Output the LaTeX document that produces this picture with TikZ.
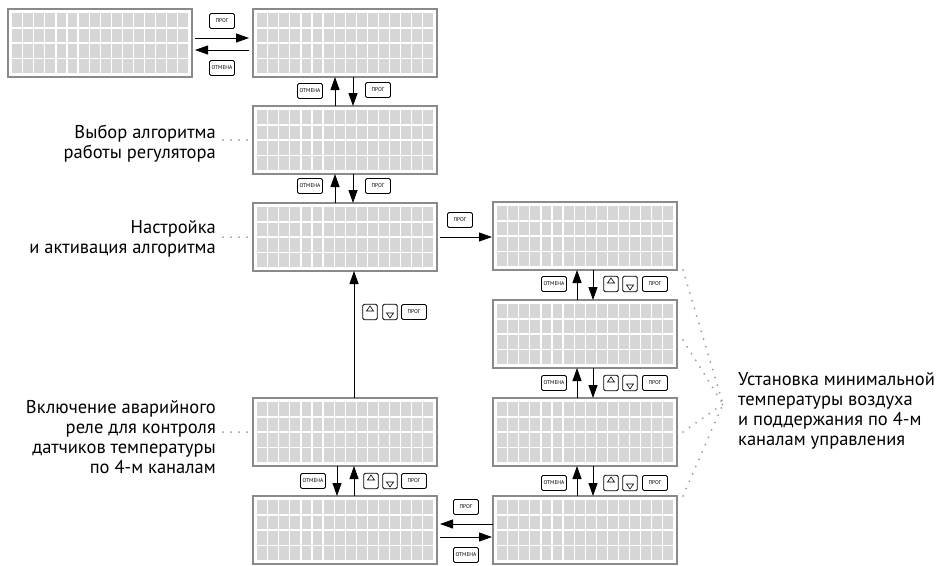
\documentclass[tikz,border=0pt]{standalone}
\usepackage{fontspec}
\setmainfont{PT Sans}
\usetikzlibrary{arrows.meta,calc}
\definecolor{lcdborder}{HTML}{8A8A8A}
\definecolor{lcdcell}{HTML}{D6D6D6}
\definecolor{dotgray}{HTML}{9A9A9A}
\tikzset{
  lcd/.style={draw=lcdborder, line width=1.8pt, fill=white, minimum width=184pt, minimum height=68pt, inner sep=0pt, outer sep=0pt},
  lcdc/.style={fill=lcdcell},
  arr/.style={line width=0.9pt, -{Triangle[length=13pt,width=9pt]}},
  btn/.style={draw, line width=0.8pt, rounded corners=1.5pt, minimum width=25pt, minimum height=15pt, inner sep=0pt, font=\fontsize{5.5}{6}\selectfont},
  tbtn/.style={btn, minimum width=14.5pt, minimum height=15.5pt},
  lbl/.style={font=\fontsize{18.5}{20}\selectfont, inner sep=0pt},
  dotl/.style={draw=dotgray, line width=2pt, line cap=round, dash pattern=on 0pt off 8pt},
}
\newcommand\lcdscr[3]{%
  \node[lcd, anchor=north west] (#1) at (#2,#3) {};
  \foreach \ci in {0,...,15}{\foreach \ri in {0,...,3}{%
    \fill[lcdc] ($(#1.north west)+(4.3+\ci*11.05,4.4+\ri*15.2)$) rectangle ++(9.9,13.8);}}%
}
\newcommand\upbtn[3]{%
  \node[tbtn] (#1) at (#2,#3) {};
  \draw[line width=0.6pt] ($(#1.center)+(-3.5,-1)$) -- ($(#1.center)+(3.5,-1)$) -- ($(#1.center)+(0,-6)$) -- cycle;}
\newcommand\dnbtn[3]{%
  \node[tbtn] (#1) at (#2,#3) {};
  \draw[line width=0.6pt] ($(#1.center)+(-3.5,1)$) -- ($(#1.center)+(3.5,1)$) -- ($(#1.center)+(0,6)$) -- cycle;}
\begin{document}
\begin{tikzpicture}[x=1pt,y=-1pt]
\fill[white] (0,0) rectangle (942,565);
\path[use as bounding box] (0,0) rectangle (942,565);
\clip (0,0) rectangle (942,565);

% screens
\lcdscr{A}{8}{9}
\lcdscr{B}{253}{9}
\lcdscr{C}{253}{106}
\lcdscr{D}{253}{203}
\lcdscr{E}{253}{398}
\lcdscr{F}{253}{496}
\lcdscr{G}{493}{202}
\lcdscr{H}{493}{300}
\lcdscr{I}{493}{398}
\lcdscr{J}{493}{496}

% arrows
\draw[arr, shorten <=3pt, shorten >=4pt] ([yshift=5pt]A.east) -- ([yshift=5pt]B.west);
\draw[arr, shorten <=4pt, shorten >=3pt] ([yshift=-7pt]B.west) -- ([yshift=-7pt]A.east);
\draw[arr] ([xshift=-10pt]C.north) -- ([xshift=-10pt]B.south);
\draw[arr] ([xshift=8pt]B.south) -- ([xshift=8pt]C.north);
\draw[arr] ([xshift=-10pt]D.north) -- ([xshift=-10pt]C.south);
\draw[arr] ([xshift=8pt]C.south) -- ([xshift=8pt]D.north);
\draw[arr, shorten <=3pt, shorten >=1pt] (D.east) -- (D.east -| G.west);
\draw[arr] ([xshift=9pt]E.north) -- ([xshift=9pt]D.south);
\draw[arr] ([xshift=-8pt]E.south) -- ([xshift=-8pt]F.north);
\draw[arr] ([xshift=9pt]F.north) -- ([xshift=9pt]E.south);
\draw[arr] ([xshift=-8pt]H.north) -- ([xshift=-8pt]G.south);
\draw[arr] ([xshift=8pt]G.south) -- ([xshift=8pt]H.north);
\draw[arr] ([xshift=-8pt]I.north) -- ([xshift=-8pt]H.south);
\draw[arr] ([xshift=8pt]H.south) -- ([xshift=8pt]I.north);
\draw[arr] ([xshift=-8pt]J.north) -- ([xshift=-8pt]I.south);
\draw[arr] ([xshift=8pt]I.south) -- ([xshift=8pt]J.north);
\draw[arr, shorten >=3pt] ([yshift=6pt]J.west) -- ([yshift=6pt]F.east);
\draw[arr, shorten <=3pt, shorten >=1pt] ([yshift=-7pt]F.east) -- ([yshift=-7pt]J.west);

% buttons
\node[btn] (p1) at (222,21) {ПРОГ};
\node[btn] (o1) at (222,68) {ОТМЕНА};
\node[btn] (o2) at (310,91) {ОТМЕНА};
\node[btn] (p2) at (378,90) {ПРОГ};
\node[btn] (o3) at (310,186) {ОТМЕНА};
\node[btn] (p3) at (378,186) {ПРОГ};
\node[btn] (p4) at (460,220) {ПРОГ};
\upbtn{u1}{370}{312}\dnbtn{d1}{390}{312}
\node[btn] (p5) at (414,312) {ПРОГ};
\node[btn] (o4) at (313,481) {ОТМЕНА};
\upbtn{u2}{371}{481}\dnbtn{d2}{390}{481}
\node[btn] (p6) at (414,481) {ПРОГ};
\node[btn] (o5) at (554,284) {ОТМЕНА};
\upbtn{u3}{611}{284}\dnbtn{d3}{630}{284}
\node[btn] (p7) at (655,284) {ПРОГ};
\node[btn] (o6) at (554,383) {ОТМЕНА};
\upbtn{u4}{611}{383}\dnbtn{d4}{630}{383}
\node[btn] (p8) at (655,383) {ПРОГ};
\node[btn] (o7) at (554,483) {ОТМЕНА};
\upbtn{u5}{611}{483}\dnbtn{d5}{630}{483}
\node[btn] (p9) at (655,483) {ПРОГ};
\node[btn] (p10) at (466,507) {ПРОГ};
\node[btn] (o8) at (466,555) {ОТМЕНА};

% labels
\node[lbl, anchor=east, align=right] (L1) at (216,144) {Выбор алгоритма\\работы регулятора};
\node[lbl, anchor=east, align=right] (L2) at (216,239) {Настройка\\и активация алгоритма};
\node[lbl, anchor=east, align=right] (L3) at (216,437) {Включение аварийного\\реле для контроля\\датчиков температуры\\по 4-м каналам};
\node[lbl, anchor=west, align=left] (L4) at (738,411) {Установка минимальной\\температуры воздуха\\и поддержания по 4-м\\каналам управления};

% dotted leaders
\draw[dotl] ([xshift=7pt]L1.east |- C.west) -- (C.west);
\draw[dotl] ([xshift=7pt]L2.east |- D.west) -- (D.west);
\draw[dotl] ([xshift=7pt]L3.east |- E.west) -- (E.west);
\coordinate (cv) at (723,404);
\draw[dotl] ([xshift=6pt]G.south east) -- (cv);
\draw[dotl] ([xshift=6pt,yshift=-6pt]H.east) -- (cv);
\draw[dotl] ([xshift=6pt]I.east) -- (cv);
\draw[dotl] ([xshift=6pt]J.north east) -- (cv);
\end{tikzpicture}
\end{document}
